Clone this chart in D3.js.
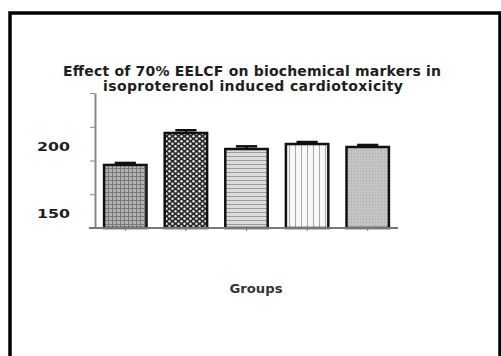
<!DOCTYPE html>
<html><head><meta charset="utf-8">
<script src="https://cdn.jsdelivr.net/npm/d3@7"></script>
<style>body{margin:0;background:#fff}svg{display:block}</style>
</head><body>
<script>
const groups = ["G1","G2","G3","G4","G5"];
const values = [196.7, 220.4, 208.5, 212.2, 210.0];
const errors = [1.5, 2.0, 2.0, 1.5, 1.5];
const yTicks = [150, 175, 200, 225, 250];
const yLabels = [150, 200];
const titleLines = ["Effect of 70% EELCF on biochemical markers in", "isoproterenol induced cardiotoxicity"];
const xTitle = "Groups";

const W = 501, H = 356;
const FONT = "'DejaVu Sans', 'Liberation Sans', sans-serif";
const svg = d3.select("body").append("svg").attr("width", W).attr("height", H);
const defs = svg.append("defs");

// patterns
let p = defs.append("pattern").attr("id","p0").attr("patternUnits","userSpaceOnUse").attr("width",4).attr("height",4);
p.append("rect").attr("width",4).attr("height",4).attr("fill","#b4b4b4");
p.append("path").attr("d","M0,0.5H4M0.5,0V4").attr("stroke","#7a7a7a").attr("stroke-width",1);

p = defs.append("pattern").attr("id","p1").attr("patternUnits","userSpaceOnUse").attr("width",6).attr("height",5);
p.append("rect").attr("width",6).attr("height",5).attr("fill","#2a2a2a");
p.append("circle").attr("cx",1.5).attr("cy",1.2).attr("r",1.2).attr("fill","#e8e8e8");
p.append("circle").attr("cx",4.5).attr("cy",3.7).attr("r",1.2).attr("fill","#e8e8e8");

p = defs.append("pattern").attr("id","p2").attr("patternUnits","userSpaceOnUse").attr("width",4).attr("height",4);
p.append("rect").attr("width",4).attr("height",4).attr("fill","#dcdcdc");
p.append("path").attr("d","M0,0.5H4").attr("stroke","#9a9a9a").attr("stroke-width",1);

p = defs.append("pattern").attr("id","p3").attr("patternUnits","userSpaceOnUse").attr("width",6).attr("height",4);
p.append("rect").attr("width",6).attr("height",4).attr("fill","#f7f7f7");
p.append("path").attr("d","M1.5,0V4").attr("stroke","#a8a8a8").attr("stroke-width",1);

p = defs.append("pattern").attr("id","p4").attr("patternUnits","userSpaceOnUse").attr("width",3).attr("height",3);
p.append("rect").attr("width",3).attr("height",3).attr("fill","#c4c4c4");
p.append("rect").attr("width",1).attr("height",1).attr("fill","#a8a8a8");

const fills = ["url(#p0)","url(#p1)","url(#p2)","url(#p3)","url(#p4)"];

// frame
svg.append("rect").attr("x",10).attr("y",13).attr("width",490).attr("height",360)
  .attr("fill","none").attr("stroke","#000").attr("stroke-width",3.5);

const x = d3.scaleBand().domain(groups).range([95, 398]).paddingInner(0.3).paddingOuter(0.15);
const y = d3.scaleLinear().domain([150, 250]).range([228, 93]);

// title
const title = svg.append("text").attr("text-anchor","middle")
  .attr("font-family",FONT).attr("font-weight","bold")
  .attr("font-size",14).attr("fill","#1e1e1e");
title.append("tspan").attr("x",252).attr("y",76).attr("textLength",378).attr("lengthAdjust","spacing").text(titleLines[0]);
title.append("tspan").attr("x",253).attr("y",91).attr("textLength",300).attr("lengthAdjust","spacing").text(titleLines[1]);

// bars
svg.append("g").selectAll("rect").data(values).join("rect")
  .attr("x",(d,i)=>x(groups[i])).attr("width",x.bandwidth())
  .attr("y",d=>y(d)).attr("height",d=>y(150)-y(d))
  .attr("fill",(d,i)=>fills[i]).attr("stroke","#111").attr("stroke-width",2.5);

// error bars
const eb = svg.append("g").attr("stroke","#111").attr("stroke-width",2.5);
values.forEach((v,i)=>{
  const cx = x(groups[i]) + x.bandwidth()/2;
  eb.append("line").attr("x1",cx).attr("x2",cx).attr("y1",y(v)).attr("y2",y(v+errors[i]));
  eb.append("line").attr("x1",cx - x.bandwidth()/4).attr("x2",cx + x.bandwidth()/4)
    .attr("y1",y(v+errors[i])).attr("y2",y(v+errors[i]));
});

// y axis
const ya = svg.append("g").attr("transform","translate(95,0)")
  .call(d3.axisLeft(y).tickValues(yTicks).tickFormat("").tickSize(5).tickSizeOuter(0));
ya.select(".domain").attr("stroke","#888").attr("stroke-width",2);
ya.selectAll(".tick line").attr("stroke","#888").attr("stroke-width",1);

svg.append("g").selectAll("text").data(yLabels).join("text")
  .attr("x",70).attr("y",d=>y(d)-14).attr("dy","0.35em").attr("text-anchor","end")
  .attr("textLength",33).attr("lengthAdjust","spacingAndGlyphs")
  .attr("font-family",FONT).attr("font-weight","bold")
  .attr("font-size",12.5).attr("fill","#1e1e1e").text(d=>d);

// x axis
const xa = svg.append("g").attr("transform","translate(0,228)")
  .call(d3.axisBottom(x).tickFormat("").tickSize(3).tickSizeOuter(0));
xa.select(".domain").attr("d","M89,0H398").attr("stroke","#777").attr("stroke-width",2);
xa.selectAll(".tick line").attr("stroke","#777");

svg.append("text").attr("x",256).attr("y",293).attr("text-anchor","middle")
  .attr("textLength",53).attr("lengthAdjust","spacingAndGlyphs")
  .attr("font-family",FONT).attr("font-weight","bold")
  .attr("font-size",11.5).attr("fill","#333").text(xTitle);
</script>
</body></html>
